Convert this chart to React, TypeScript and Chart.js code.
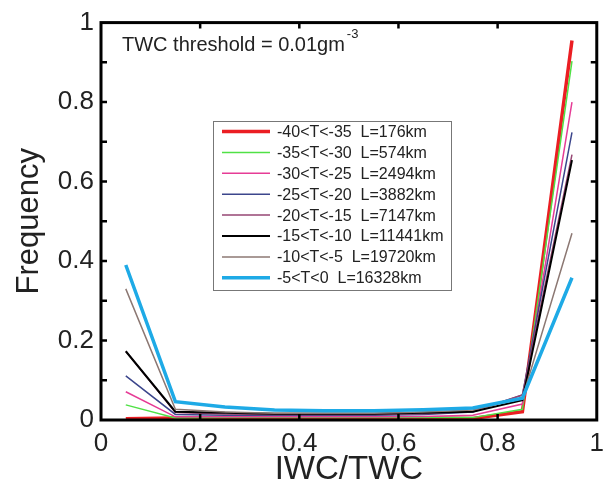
import { useEffect, useRef } from 'react';
import { Chart, registerables } from 'chart.js';

Chart.register(...registerables);

const FONT = '"Liberation Sans", Arial, Helvetica, sans-serif';

// bin centres of IWC/TWC
const binCenters = [0.05, 0.15, 0.25, 0.35, 0.45, 0.55, 0.65, 0.75, 0.85, 0.95];

const seriesLabels = [
  '-40<T<-35  L=176km',
  '-35<T<-30  L=574km',
  '-30<T<-25  L=2494km',
  '-25<T<-20  L=3882km',
  '-20<T<-15  L=7147km',
  '-15<T<-10  L=11441km',
  '-10<T<-5  L=19720km',
  '-5<T<0  L=16328km',
];

const tM40 = [0.003, 0.005, 0.005, 0.005, 0.005, 0.005, 0.005, 0.004, 0.021, 0.955];
const tM35 = [0.038, 0.005, 0.006, 0.006, 0.006, 0.006, 0.006, 0.006, 0.027, 0.903];
const tM30 = [0.071, 0.008, 0.008, 0.008, 0.008, 0.008, 0.009, 0.012, 0.040, 0.800];
const tM25 = [0.111, 0.014, 0.012, 0.012, 0.012, 0.012, 0.014, 0.020, 0.063, 0.724];
const tM20 = [0.173, 0.019, 0.015, 0.014, 0.014, 0.014, 0.016, 0.022, 0.063, 0.668];
const tM15 = [0.173, 0.021, 0.018, 0.016, 0.016, 0.016, 0.018, 0.021, 0.050, 0.654];
const tM10 = [0.330, 0.027, 0.020, 0.017, 0.017, 0.017, 0.020, 0.025, 0.055, 0.470];
const tM5 = [0.390, 0.046, 0.033, 0.025, 0.023, 0.023, 0.026, 0.030, 0.055, 0.358];

const seriesValues = [tM40, tM35, tM30, tM25, tM20, tM15, tM10, tM5];

const seriesColors = [
  'rgb(235,30,35)',
  'rgb(80,225,70)',
  'rgb(230,60,150)',
  'rgb(60,70,140)',
  'rgb(150,70,115)',
  'rgb(0,0,0)',
  'rgb(140,120,115)',
  'rgb(30,170,230)',
];
const seriesWidths = [3.5, 1.5, 1.5, 1.5, 1.5, 2, 1.5, 3.5];

const xInnerTicks = [0.2, 0.4, 0.6, 0.8];
const yInnerTicks = [0.1, 0.2, 0.3, 0.4, 0.5, 0.6, 0.7, 0.8, 0.9];

const fmtTick = (v: any) => {
  const n = Number(v);
  if (Math.abs(n) < 1e-9) return '0';
  if (Math.abs(n - 1) < 1e-9) return '1';
  return n.toFixed(1);
};

const framePlugin = {
  id: 'frameAndLegend',
  afterDatasetsDraw(chart: any) {
    const { ctx, chartArea: a, scales } = chart;
    ctx.save();
    // inward ticks
    ctx.strokeStyle = '#000';
    ctx.lineWidth = 2.5;
    ctx.beginPath();
    for (const v of xInnerTicks) {
      const px = scales.x.getPixelForValue(v);
      ctx.moveTo(px, a.bottom);
      ctx.lineTo(px, a.bottom - 6);
      ctx.moveTo(px, a.top);
      ctx.lineTo(px, a.top + 6);
    }
    for (const v of yInnerTicks) {
      const py = scales.y.getPixelForValue(v);
      ctx.moveTo(a.left, py);
      ctx.lineTo(a.left + 6, py);
      ctx.moveTo(a.right, py);
      ctx.lineTo(a.right - 6, py);
    }
    ctx.stroke();
    // frame
    ctx.lineWidth = 3;
    ctx.strokeRect(a.left, a.top, a.right - a.left, a.bottom - a.top);

    // annotation
    ctx.fillStyle = '#222';
    ctx.textBaseline = 'alphabetic';
    ctx.textAlign = 'left';
    ctx.font = `20px ${FONT}`;
    const main = 'TWC threshold = 0.01gm';
    ctx.fillText(main, 122, 51);
    const w = ctx.measureText(main).width;
    ctx.font = `13px ${FONT}`;
    ctx.fillText('-3', 122 + w + 2, 38);

    // legend
    const bx = 213, by = 121, bw = 238, bh = 169;
    ctx.fillStyle = '#fff';
    ctx.fillRect(bx, by, bw, bh);
    ctx.strokeStyle = '#777';
    ctx.lineWidth = 1;
    ctx.strokeRect(bx + 0.5, by + 0.5, bw, bh);
    ctx.font = `16px ${FONT}`;
    ctx.textBaseline = 'middle';
    chart.data.datasets.forEach((ds: any, i: number) => {
      const y = 131.5 + i * 20.9;
      ctx.strokeStyle = ds.borderColor;
      ctx.lineWidth = ds.borderWidth;
      ctx.beginPath();
      ctx.moveTo(222, y);
      ctx.lineTo(270, y);
      ctx.stroke();
      ctx.fillStyle = '#222';
      ctx.fillText(ds.label, 277, y + 1);
    });
    ctx.restore();
  },
};

export default function App() {
  const ref = useRef<HTMLCanvasElement>(null);
  useEffect(() => {
    document.body.style.margin = '0';
    const chart = new Chart(ref.current as HTMLCanvasElement, {
      type: 'line',
      data: {
        datasets: seriesValues.map((vals, i) => ({
          label: seriesLabels[i],
          data: binCenters.map((x, j) => ({ x, y: vals[j] })),
          borderColor: seriesColors[i],
          backgroundColor: seriesColors[i],
          borderWidth: seriesWidths[i],
          pointRadius: 0,
          tension: 0,
          fill: false,
          order: seriesValues.length - 1 - i,
        })),
      },
      options: {
        animation: false,
        responsive: false,
        layout: { padding: { top: 22, right: 4, left: 0, bottom: 0 }, autoPadding: false },
        plugins: { legend: { display: false }, tooltip: { enabled: false } },
        scales: {
          x: {
            type: 'linear',
            min: 0,
            max: 1,
            grid: { display: false, drawTicks: false },
            border: { display: false },
            ticks: { stepSize: 0.2, maxRotation: 0, padding: 8, color: '#222', font: { family: FONT, size: 26 }, callback: fmtTick },
            title: { display: true, text: 'IWC/TWC', color: '#222', font: { family: FONT, size: 33, lineHeight: 1 }, padding: { top: 0, bottom: 0 } },
            afterFit: (s: any) => { s.height = 66; },
          },
          y: {
            type: 'linear',
            min: 0,
            max: 1,
            grid: { display: false, drawTicks: false },
            border: { display: false },
            ticks: { stepSize: 0.2, padding: 7, color: '#222', font: { family: FONT, size: 26 }, callback: fmtTick },
            title: { display: true, text: 'Frequency', color: '#222', font: { family: FONT, size: 31, lineHeight: 1 }, padding: { top: 14, bottom: 0 } },
            afterFit: (s: any) => { s.width = 101; },
          },
        },
      },
      plugins: [framePlugin],
    });
    return () => chart.destroy();
  }, []);
  return (
    <div style={{ position: 'absolute', left: 0, top: 0, width: 612, height: 486, background: '#fff' }}>
      <canvas ref={ref} width={612} height={486} />
    </div>
  );
}
